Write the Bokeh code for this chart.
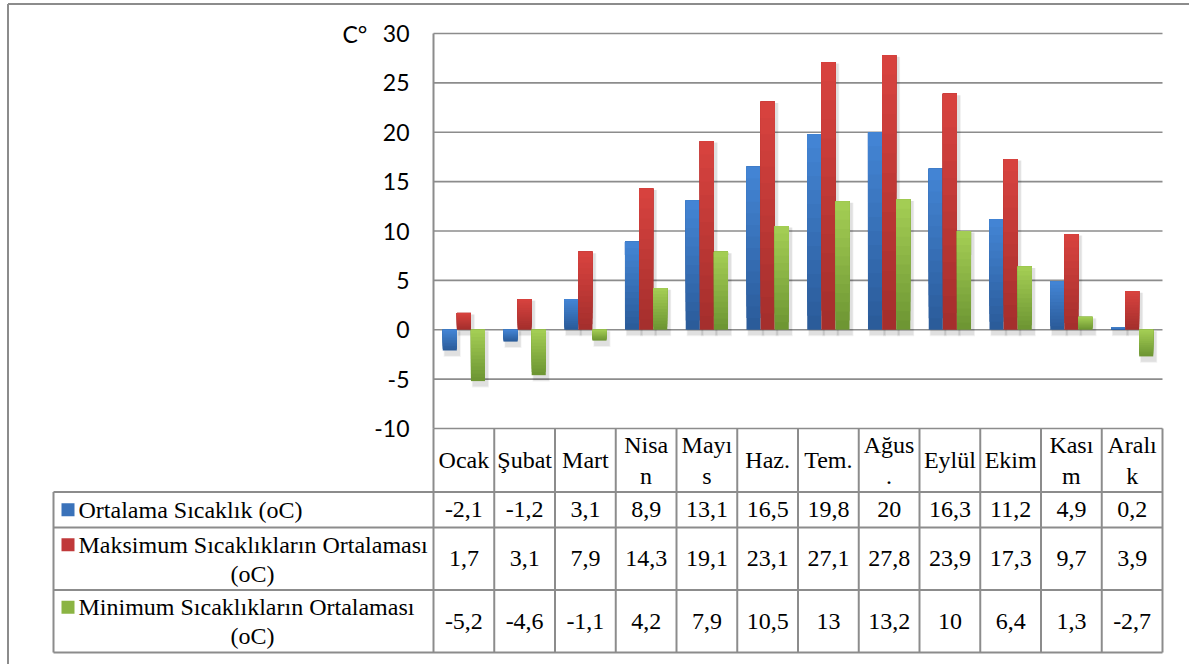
from bokeh.plotting import figure
from bokeh.models import (Range1d, LinearAxis, FixedTicker, Label, ColumnDataSource,
                          PrintfTickFormatter)
from bokeh.core.properties import value
from bokeh.embed import file_html
from bokeh.resources import INLINE

# ---- data -------------------------------------------------------------
months_header = ["Ocak", "Şubat", "Mart", "Nisa\nn", "Mayı\ns", "Haz.", "Tem.",
                 "Ağus\n.", "Eylül", "Ekim", "Kası\nm", "Aralı\nk"]
ortalama = [-2.1, -1.2, 3.1, 8.9, 13.1, 16.5, 19.8, 20, 16.3, 11.2, 4.9, 0.2]
maksimum = [1.7, 3.1, 7.9, 14.3, 19.1, 23.1, 27.1, 27.8, 23.9, 17.3, 9.7, 3.9]
minimum = [-5.2, -4.6, -1.1, 4.2, 7.9, 10.5, 13, 13.2, 10, 6.4, 1.3, -2.7]
legend_lines = [["Ortalama Sıcaklık (oC)"],
                ["Maksimum Sıcaklıkların Ortalaması", "(oC)"],
                ["Minimum Sıcaklıkların Ortalaması", "(oC)"]]
y_ticks = [-10, -5, 0, 5, 10, 15, 20, 25, 30]
y_title = "C°"

series = [ortalama, maksimum, minimum]
# (light top, dark bottom) for each series
palettes = [("#4486d6", "#2a5a98"), ("#d9433f", "#a32e2c"), ("#a5cf55", "#6c9432")]
swatch = ["#3a72ba", "#c0393a", "#8bb443"]

# ---- page geometry (pixels) -------------------------------------------
W, H = 1189, 664
PLOT_LEFT, COL_W = 433.0, 60.75
PLOT_TOP, PX_PER_DEG = 33.0, 9.875
Y_MIN, Y_MAX = y_ticks[0], y_ticks[-1]
N = len(months_header)


def fx(px):
    return (px - PLOT_LEFT) / COL_W


def fy(py):
    return Y_MAX - (py - PLOT_TOP) / PX_PER_DEG


GRID = "#8c8c8c"
SERIF = value("Liberation Serif")

p = figure(width=W, height=H, output_backend="svg", toolbar_location=None,
           x_range=Range1d(fx(0), fx(W)), y_range=Range1d(fy(H), fy(0)),
           x_axis_location=None, y_axis_location=None,
           min_border=0, min_border_left=0, min_border_right=0,
           min_border_top=0, min_border_bottom=0, outline_line_color=None)
p.background_fill_color = "white"
p.border_fill_color = "white"
p.grid.visible = False

# outer chart border
p.segment(x0=[fx(7.5), fx(7.5)], y0=[fy(3.5), fy(3.5)],
          x1=[fx(7.5), fx(W + 5)], y1=[fy(H + 5), fy(3.5)],
          line_color=GRID, line_width=2)

# horizontal gridlines across the plot area
p.segment(x0=[0] * len(y_ticks), x1=[N] * len(y_ticks), y0=y_ticks, y1=y_ticks,
          line_color=GRID, line_width=1.6)

# y axis drawn on the plot's left edge
yaxis = LinearAxis(fixed_location=0, ticker=FixedTicker(ticks=y_ticks),
                   formatter=PrintfTickFormatter(format="%d"),
                   bounds=(Y_MIN, Y_MAX), axis_line_color=GRID, axis_line_width=2,
                   major_tick_line_color=None, minor_tick_line_color=None,
                   major_tick_out=0, major_tick_in=0, major_label_standoff=24,
                   major_label_text_font="Lato", major_label_text_font_size="23px",
                   major_label_text_color="#000000")
p.add_layout(yaxis, "left")
p.add_layout(Label(x=fx(342), y=fy(33), text=y_title, text_font="Lato",
                   text_font_size="23px", text_baseline="middle", text_align="left",
                   text_color="#000000"))

# ---- bars ---------------------------------------------------------------
BW = 0.232
offsets = [-BW, 0.0, BW]
SLICES = 14


def mix(c1, c2, t):
    a = [int(c1[i:i + 2], 16) for i in (1, 3, 5)]
    b = [int(c2[i:i + 2], 16) for i in (1, 3, 5)]
    return "#%02x%02x%02x" % tuple(round(a[j] + (b[j] - a[j]) * t) for j in range(3))


# soft drop shadows
for grow, alpha in [(0.05, 0.05), (0.025, 0.07)]:
    sx, stop, sbot = [], [], []
    for s, vals in enumerate(series):
        for i, v in enumerate(vals):
            lo, hi = min(0, v), max(0, v)
            sx.append(i + 0.5 + offsets[s] + 0.04)
            stop.append(hi - 0.15)
            sbot.append(lo - 0.45 - grow * 4)
    p.vbar(x=sx, top=stop, bottom=sbot, width=BW + grow, fill_color="#000000",
           fill_alpha=alpha, line_color=None)

# vertical gradient on each bar: stacked slices, light at top, dark at bottom
for s, vals in enumerate(series):
    light, dark = palettes[s]
    data = dict(x=[], top=[], bottom=[], color=[])
    for k in range(SLICES):
        for i, v in enumerate(vals):
            lo, hi = min(0, v), max(0, v)
            data["x"].append(i + 0.5 + offsets[s])
            data["bottom"].append(lo + (hi - lo) * k / SLICES)
            data["top"].append(hi)
            data["color"].append(mix(dark, light, (k + 0.5) / SLICES))
    p.vbar(x="x", top="top", bottom="bottom", width=BW, fill_color="color",
           line_color=None, source=ColumnDataSource(data))

# ---- data table ---------------------------------------------------------
row_px = [491.5, 527.0, 589.5, 652.0]
LEG_LEFT = 53.0
# horizontal rules
p.segment(x0=[fx(LEG_LEFT)] * len(row_px), x1=[N] * len(row_px),
          y0=[fy(r) for r in row_px], y1=[fy(r) for r in row_px],
          line_color=GRID, line_width=2)
# vertical rules between month columns
p.segment(x0=list(range(N + 1)), x1=list(range(N + 1)),
          y0=[Y_MIN] * (N + 1), y1=[fy(row_px[-1])] * (N + 1),
          line_color=GRID, line_width=2)
p.segment(x0=[fx(LEG_LEFT)], x1=[fx(LEG_LEFT)], y0=[fy(row_px[0])],
          y1=[fy(row_px[-1])], line_color=GRID, line_width=2)

# month headers
p.text(x=[i + 0.5 for i in range(N)], y=[(Y_MIN + fy(row_px[0])) / 2] * N,
       text=months_header, text_font=SERIF, text_font_size="24px",
       text_align="center", text_baseline="middle", text_color="#000000",
       text_line_height=1.2)


# values
def fmt(v):
    return ("%g" % v).replace(".", ",")


for r, vals in enumerate(series):
    yc = fy((row_px[r] + row_px[r + 1]) / 2)
    p.text(x=[i + 0.5 for i in range(N)], y=[yc] * N, text=[fmt(v) for v in vals],
           text_font=SERIF, text_font_size="24px", text_align="center",
           text_baseline="middle", text_color="#000000")

# legend keys and series names
for r, lines in enumerate(legend_lines):
    mid = (row_px[r] + row_px[r + 1]) / 2
    first_y = mid if len(lines) == 1 else mid - 14
    p.quad(left=[fx(61)], right=[fx(74)], top=[fy(first_y - 6.5)],
           bottom=[fy(first_y + 6.5)], fill_color=swatch[r], line_color=None)
    p.text(x=[fx(78)], y=[fy(first_y)], text=[lines[0]], text_font=SERIF,
           text_font_size="24px", text_align="left", text_baseline="middle",
           text_color="#000000")
    if len(lines) > 1:
        p.text(x=[fx(252)], y=[fy(mid + 15)], text=[lines[1]], text_font=SERIF,
               text_font_size="24px", text_align="center", text_baseline="middle",
               text_color="#000000")

open("out.html", "w").write(file_html(p, INLINE))
